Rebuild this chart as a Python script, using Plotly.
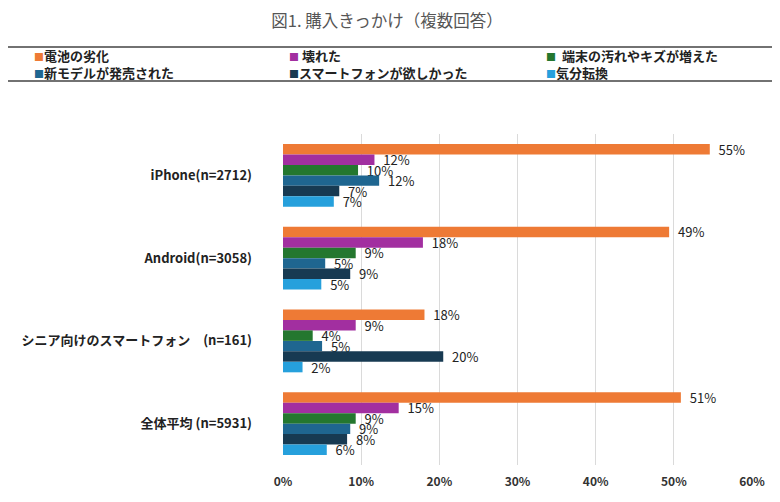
import plotly.graph_objects as go

categories = ["iPhone(n=2712)", "Android(n=3058)", "シニア向けのスマートフォン　(n=161)", "全体平均 (n=5931)"]
series_names = ["電池の劣化", "壊れた", "端末の汚れやキズが増えた", "新モデルが発売された", "スマートフォンが欲しかった", "気分転換"]

battery = [54.6, 49.4, 18.1, 50.9]
broken = [11.7, 17.9, 9.3, 14.8]
dirty = [9.6, 9.3, 3.8, 9.3]
new_model = [12.3, 5.4, 5.0, 8.6]
want_smart = [7.2, 8.6, 20.5, 8.2]
mood = [6.5, 4.9, 2.5, 5.6]

labels = {
    "電池の劣化": ["55%", "49%", "18%", "51%"],
    "壊れた": ["12%", "18%", "9%", "15%"],
    "端末の汚れやキズが増えた": ["10%", "9%", "4%", "9%"],
    "新モデルが発売された": ["12%", "5%", "5%", "9%"],
    "スマートフォンが欲しかった": ["7%", "9%", "20%", "8%"],
    "気分転換": ["7%", "5%", "2%", "6%"],
}

series_values = [battery, broken, dirty, new_model, want_smart, mood]
colors = ["#EE7A35", "#A22FA0", "#24772F", "#1F6690", "#173A52", "#26A0DC"]

FONT = "Noto Sans CJK JP"

# page body adds an 8px offset; geometry below is given in screen pixels
OFF = 8
W, H = 780, 502
PL, PR, PT, PB = 283, 752, 134, 465  # plot area on screen
L, T = PL - OFF, PT - OFF
R = W - (PR - OFF)
B = H - (PB - OFF)
PW, PH = PR - PL, PB - PT

def px(x):
    return (x - PL) / PW

def py(y):
    return (PB - y) / PH

fig = go.Figure()
for name, vals, col in zip(series_names, series_values, colors):
    fig.add_trace(go.Bar(
        y=categories, x=vals, name=name, orientation="h",
        marker=dict(color=col, line=dict(width=0)),
        text=["  " + t for t in labels[name]],
        textposition="outside", constraintext="none", cliponaxis=False,
        textfont=dict(family=FONT, size=13, color="#222222"),
        hoverinfo="skip", showlegend=False,
    ))

# legend drawn as text entries (3 columns x 2 rows) inside a bordered box
leg_cols = [32, 287, 544]
leg_gaps = ["", " ", "  "]
leg_rows = [55, 72]
annotations = []
for i, (name, col) in enumerate(zip(series_names, colors)):
    r, c = divmod(i, 3)
    gap = leg_gaps[c] if r == 0 else ""
    annotations.append(dict(
        xref="paper", yref="paper", x=px(leg_cols[c]), y=py(leg_rows[r]),
        xanchor="left", yanchor="middle", showarrow=False,
        text=f"<span style='color:{col};font-size:10px'>■</span>{gap}{name}",
        font=dict(family=FONT, size=13, color="#222222", weight="bold"),
    ))

fig.update_layout(
    width=W, height=H,
    paper_bgcolor="white", plot_bgcolor="white",
    barmode="group", bargap=0.24, bargroupgap=0,
    margin=dict(l=L, r=R, t=T, b=B),
    title=dict(text="図1. 購入きっかけ（複数回答）", x=(387 - OFF) / W, xanchor="center",
               y=1 - (21 - OFF) / H, yanchor="middle",
               font=dict(family=FONT, size=16.5, color="#555555")),
    showlegend=False,
    annotations=annotations,
    shapes=[dict(type="rect", xref="paper", yref="paper",
                 x0=px(7), x1=px(773), y0=py(81), y1=py(47),
                 line=dict(color="#444444", width=1.5), fillcolor="rgba(0,0,0,0)")],
    font=dict(family=FONT),
)
fig.update_xaxes(range=[0, 60], dtick=10, ticksuffix="%", showgrid=True,
                 gridcolor="#DADADA", gridwidth=1, zeroline=False, showline=False,
                 tickfont=dict(family=FONT, size=12, color="#333333", weight="bold"),
                 ticks="", ticklabelstandoff=8, automargin=False)
fig.update_yaxes(autorange="reversed", showgrid=False, showline=False, ticks="",
                 tickfont=dict(family=FONT, size=13, color="#222222", weight="bold"),
                 ticklabelstandoff=30, automargin=False)

fig.write_html("out.html")
